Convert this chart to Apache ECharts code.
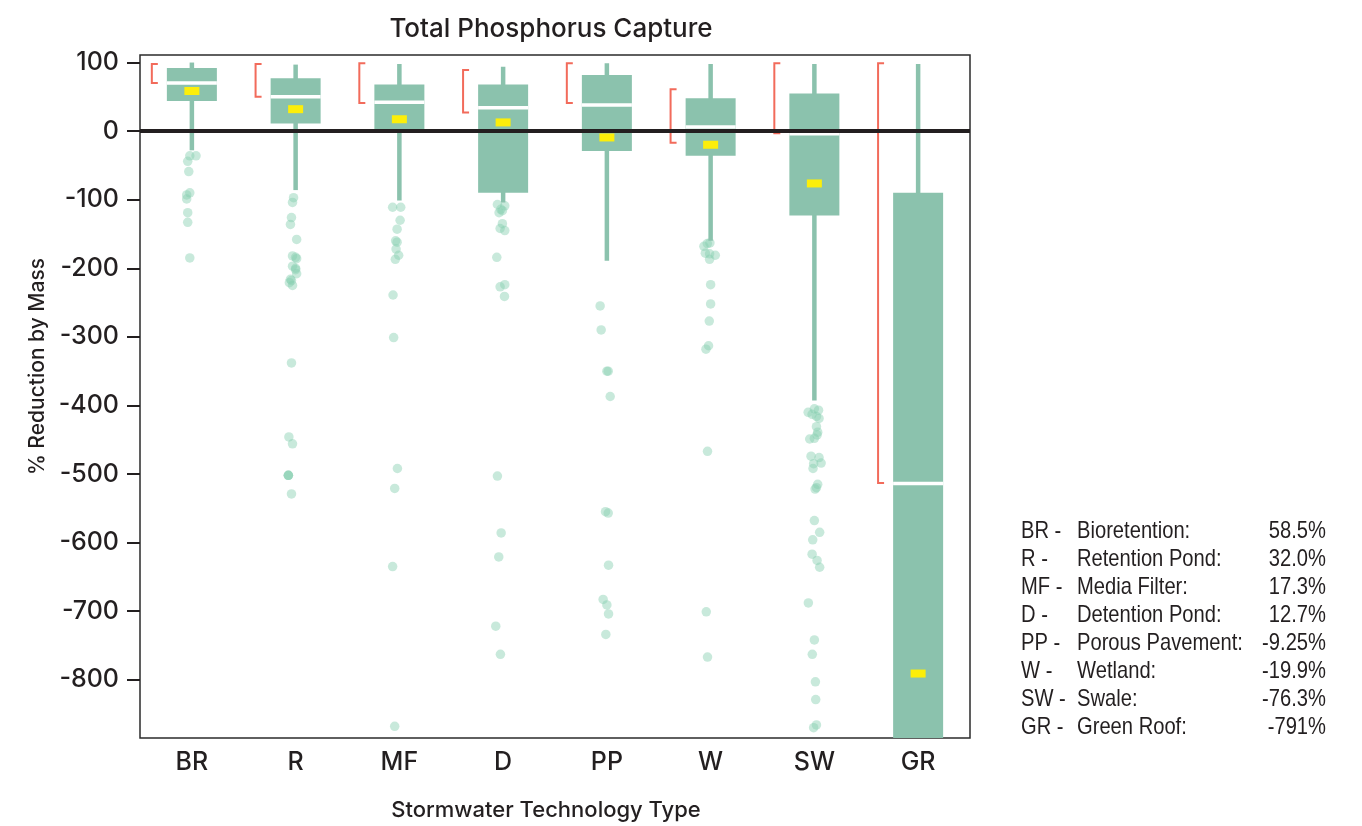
<!DOCTYPE html>
<html>
<head>
<meta charset="utf-8">
<title>Total Phosphorus Capture</title>
<script src="https://cdn.jsdelivr.net/npm/echarts@6/dist/echarts.min.js"></script>
<style>
  html, body { margin: 0; padding: 0; background: #ffffff; }
  #chart { width: 1362px; height: 826px; }
</style>
</head>
<body>
<div id="chart"></div>
<script>
// Technology codes and full names
const codes = ['BR', 'R', 'MF', 'D', 'PP', 'W', 'SW', 'GR'];
const names = ['Bioretention:', 'Retention Pond:', 'Media Filter:', 'Detention Pond:',
               'Porous Pavement:', 'Wetland:', 'Swale:', 'Green Roof:'];

// Box statistics, % reduction by mass
const means       = [58.5, 32.0, 17.3, 12.7, -9.25, -19.9, -76.3, -791];
const whiskerLow  = [-28, -86, -101, -104, -189, -160, -393, -950];
const q1          = [44, 11, 2, -90, -29, -36, -123, -950];
const medians     = [70, 50, 42, 34, 38, 6, -4, -514];
const q3          = [92, 77, 68, 68, 82, 48, 55, -90];
const whiskerHigh = [100, 97, 98, 94, 99, 98, 98, 98];

// Red interval brackets beside each box
const bracketLow  = [70, 50, 41, 27, 41, -17, -3, -513];
const bracketHigh = [98, 98, 99, 89, 99, 61, 99, 99];

// Y axis tick values
const yTicks = [100, 0, -100, -200, -300, -400, -500, -600, -700, -800];

// Outliers: [value, horizontal jitter in category widths]
const outliersBR = [[-36, -0.02], [-36, 0.04], [-44, -0.04], [-59, -0.03], [-90, -0.02],
                    [-93, -0.05], [-99, -0.05], [-119, -0.04], [-133, -0.04], [-185, -0.02]];
const outliersR = [[-97, -0.02], [-104, -0.03], [-126, -0.04], [-136, -0.05], [-158, 0.01],
                   [-182, -0.03], [-184, 0.0], [-186, 0.01], [-197, -0.03], [-200, 0.0],
                   [-202, 0.0], [-208, 0.01], [-216, -0.05], [-218, -0.04], [-221, -0.06],
                   [-225, -0.03], [-338, -0.04], [-446, -0.065], [-456, -0.03],
                   [-502, -0.07], [-502, -0.07], [-502, -0.07], [-529, -0.04]];
const outliersMF = [[-111, -0.065], [-111, 0.013], [-130, 0.007], [-143, -0.022], [-160, -0.036],
                    [-162, -0.022], [-172, -0.032], [-181, -0.007], [-187, -0.039], [-239, -0.061],
                    [-301, -0.055], [-492, -0.019], [-521, -0.045], [-635, -0.065], [-868, -0.045]];
const outliersD = [[-107, -0.055], [-109, 0.016], [-114, -0.022], [-119, -0.039], [-116, -0.007],
                   [-135, -0.007], [-142, -0.029], [-145, 0.016], [-184, -0.061], [-224, 0.016],
                   [-227, -0.029], [-241, 0.013], [-503, -0.055], [-586, -0.019], [-621, -0.042],
                   [-722, -0.071], [-763, -0.026]];
const outliersPP = [[-255, -0.065], [-290, -0.055], [-350, 0.0], [-350, 0.013], [-387, 0.032],
                    [-555, -0.013], [-557, 0.013], [-633, 0.016], [-683, -0.036], [-691, 0.0],
                    [-704, 0.016], [-734, -0.01]];
const outliersW = [[-164, -0.032], [-168, -0.065], [-163, -0.007], [-178, -0.051], [-179, -0.01],
                   [-181, 0.045], [-187, -0.01], [-224, 0.0], [-252, 0.0], [-277, -0.013],
                   [-313, -0.02], [-318, -0.045], [-467, -0.03], [-701, -0.042], [-767, -0.03]];
const outliersSW = [[-405, 0.0], [-407, 0.04], [-410, -0.06], [-413, -0.022], [-416, 0.02],
                    [-419, 0.045], [-431, 0.02], [-439, 0.032], [-443, 0.026], [-449, -0.045],
                    [-448, 0.0], [-474, -0.032], [-476, 0.045], [-484, 0.065], [-492, -0.013],
                    [-485, -0.007], [-515, 0.032], [-520, 0.02], [-522, 0.007], [-568, 0.0],
                    [-585, 0.051], [-596, -0.016], [-617, -0.022], [-626, 0.026], [-636, 0.051],
                    [-688, -0.058], [-742, 0.0], [-763, -0.02], [-803, 0.01], [-829, 0.013],
                    [-866, 0.02], [-870, -0.007]];
const outliersGR = [];
const outliers = [outliersBR, outliersR, outliersMF, outliersD, outliersPP, outliersW, outliersSW, outliersGR];

const INK = '#231f20';
const BOX = '#8bc2ad';
const FONT = 'Inter, "Liberation Sans", sans-serif';
const LEGEND_FONT = '"Liberation Sans", Arial, sans-serif';

const boxRows = codes.map((c, i) => [i, whiskerLow[i], q1[i], medians[i], q3[i], whiskerHigh[i],
                                     means[i], bracketLow[i], bracketHigh[i]]);

// Points sit on a 0..8 position axis: category i spans [i, i + 1]
const pointRows = [];
outliers.forEach((list, i) => list.forEach(([v, j]) => pointRows.push([i + 0.5 + j, v])));

// Legend table at the right, set in a horizontally condensed face
const legend = [];
codes.forEach((c, i) => {
  const y = 531 + i * 28;
  const cell = (x, text, align) => ({
    type: 'text', x, y, scaleX: 0.84,
    style: { text, align, verticalAlign: 'middle', fontSize: 24, fontFamily: LEGEND_FONT, fill: INK }
  });
  legend.push(cell(1021, c + ' -', 'left'));
  legend.push(cell(1077, names[i], 'left'));
  legend.push(cell(1326, means[i].toPrecision(3) + '%', 'right'));
});

const chart = echarts.init(document.getElementById('chart'), null, { renderer: 'canvas' });

chart.setOption({
  backgroundColor: '#ffffff',
  animation: false,
  title: {
    text: 'Total Phosphorus Capture',
    left: 546,
    top: 11,
    textAlign: 'center',
    textStyle: { fontFamily: FONT, fontSize: 26, fontWeight: 500, color: INK }
  },
  grid: {
    left: 140, top: 55, width: 830, height: 683,
    show: true, borderColor: '#2b2b2b', borderWidth: 1.5, backgroundColor: 'transparent',
    outerBoundsMode: 'none'
  },
  xAxis: [{
    type: 'category',
    data: codes,
    boundaryGap: true,
    axisLine: { show: false, onZero: false },
    axisTick: { show: false },
    splitLine: { show: false },
    axisLabel: { fontFamily: FONT, fontSize: 25, fontWeight: 500, color: INK, margin: 12 },
    name: 'Stormwater Technology Type',
    nameLocation: 'middle',
    nameGap: 61,
    nameTextStyle: { fontFamily: FONT, fontSize: 22, fontWeight: 500, color: INK, padding: [0, 18, 0, 0] }
  }, {
    // hidden position axis; its zero is the left edge of the plot
    type: 'value',
    min: 0,
    max: 8,
    show: false
  }],
  yAxis: {
    type: 'value',
    min: -885,
    max: 111,
    axisLine: { show: false },
    splitLine: { show: false },
    axisTick: { show: true, inside: false, length: 13, customValues: yTicks,
                lineStyle: { color: INK, width: 2 } },
    axisLabel: { customValues: yTicks, fontFamily: FONT, fontSize: 25, fontWeight: 500,
                 color: INK, margin: 21 },
    name: '% Reduction by Mass',
    nameLocation: 'middle',
    nameGap: 88,
    nameTextStyle: { fontFamily: FONT, fontSize: 21, fontWeight: 500, color: INK, padding: [0, 0, 0, 60] }
  },
  graphic: legend,
  series: [{
    // zero reference line
    type: 'line',
    data: [],
    z: 1,
    markLine: {
      silent: true,
      symbol: 'none',
      label: { show: false },
      lineStyle: { color: INK, width: 4, type: 'solid' },
      data: [{ yAxis: 0 }]
    }
  }, {
    type: 'scatter',
    xAxisIndex: 1,
    z: 2,
    symbol: 'circle',
    symbolSize: 9.5,
    itemStyle: { color: '#86cfb0', opacity: 0.45 },
    data: pointRows
  }, {
    type: 'custom',
    z: 3,
    clip: true,
    encode: { x: 0, y: [1, 2, 3, 4, 5] },
    data: boxRows,
    renderItem(params, api) {
      const i = api.value(0);
      const band = api.size([1, 0])[0];
      const cx = api.coord([i, 0])[0];
      const y = (k) => api.coord([i, api.value(k)])[1];
      const boxW = band * 0.482;
      const whiskerW = 4.5;
      const yWl = y(1), yQ1 = y(2), yMed = y(3), yQ3 = y(4), yWh = y(5), yMean = y(6);
      const yBl = y(7), yBh = y(8);
      const bx = cx - band * 0.386;
      const serif = 6;
      return {
        type: 'group',
        children: [
          { type: 'rect', shape: { x: cx - whiskerW / 2, y: yWh, width: whiskerW, height: yWl - yWh },
            style: { fill: BOX } },
          { type: 'rect', shape: { x: cx - boxW / 2, y: yQ3, width: boxW, height: yQ1 - yQ3 },
            style: { fill: BOX } },
          { type: 'rect', shape: { x: cx - boxW / 2, y: yMed - 1.75, width: boxW, height: 3.5 },
            style: { fill: '#ffffff' } },
          { type: 'rect', shape: { x: cx - 7.5, y: yMean - 4, width: 15, height: 8 },
            style: { fill: '#fcee0a' } },
          { type: 'polyline',
            shape: { points: [[bx + serif, yBh], [bx, yBh], [bx, yBl], [bx + serif, yBl]] },
            style: { stroke: '#f26b5b', lineWidth: 2, fill: null } }
        ]
      };
    }
  }]
});
</script>
</body>
</html>
